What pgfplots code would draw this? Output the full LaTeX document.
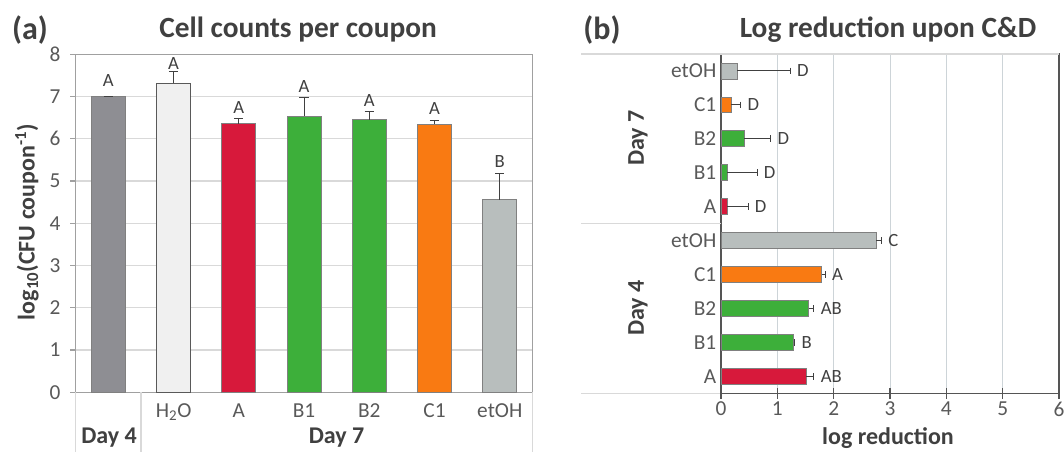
\documentclass[border=0pt]{standalone}
\usepackage{pgfplots}
\pgfplotsset{compat=1.18}
\usepackage{fontspec}
\setmainfont{Carlito}
\definecolor{txt}{HTML}{404040}
\definecolor{tickc}{HTML}{595959}
\definecolor{gridc}{HTML}{D9D9D9}
\definecolor{gridb}{HTML}{CDD4D8}
\definecolor{axc}{HTML}{A0A0A0}
\definecolor{axb}{HTML}{555555}
\definecolor{barb}{HTML}{808080}
\definecolor{errc}{HTML}{404040}
\definecolor{cDay}{HTML}{8E8E93}
\definecolor{cH}{HTML}{F0F0F0}
\definecolor{cA}{HTML}{D7193B}
\definecolor{cB}{HTML}{3DAF3A}
\definecolor{cC}{HTML}{F97A12}
\definecolor{cE}{HTML}{B8BEBD}
\pgfplotsset{
 vbar/.style={ybar, bar width=0.52, bar shift=0pt, draw=barb, line width=0.6pt, fill=#1,
   error bars/y dir=plus, error bars/y explicit,
   error bars/error bar style={line width=0.7pt, draw=errc},
   error bars/error mark options={rotate=90, line width=0.7pt, draw=errc, mark size=3.5pt}},
 hbar/.style={xbar, bar width=0.47, bar shift=0pt, draw=barb, line width=0.6pt, fill=#1,
   error bars/x dir=plus, error bars/x explicit,
   error bars/error bar style={line width=0.7pt, draw=errc},
   error bars/error mark options={rotate=90, line width=0.7pt, draw=errc, mark size=2.5pt}},
}
\begin{document}
\begin{tikzpicture}
\useasboundingbox (0,0) rectangle (798pt,339pt);
% ---------------- panel (a)
\begin{axis}[
  at={(56.8pt,44.8pt)}, anchor=south west, scale only axis,
  width=342.5pt, height=253.5pt,
  xmin=-0.5, xmax=6.5, ymin=0, ymax=8,
  ytick={0,1,...,8}, xtick={0,...,6},
  xticklabels={,H\textsubscript{2}O,A,B1,B2,C1,etOH},
  x tick style={draw=none}, ytick pos=left, xtick pos=bottom,
  axis line style={axc, line width=0.9pt},
  y tick style={axc, line width=0.9pt},
  tick align=outside, major tick length=4pt,
  ticklabel style={font=\fontsize{16}{19}\selectfont, text=tickc},
  yticklabel style={xshift=-4pt},
  xticklabel style={yshift=-1pt},
  /pgf/number format/assume math mode=true,
  clip=false,
]
\pgfplotsinvokeforeach{1,...,7}{\draw[draw=gridc, line width=0.8pt] (axis cs:-0.5,#1) -- (axis cs:6.5,#1);}
\addplot[vbar=cDay] coordinates {(0,7.00) +- (0,0.01)};
\addplot[vbar=cH, draw=tickc] coordinates {(1,7.32) +- (0,0.28)};
\addplot[vbar=cA] coordinates {(2,6.36) +- (0,0.13)};
\addplot[vbar=cB] coordinates {(3,6.54) +- (0,0.44)};
\addplot[vbar=cB] coordinates {(4,6.45) +- (0,0.19)};
\addplot[vbar=cC] coordinates {(5,6.34) +- (0,0.10)};
\addplot[vbar=cE] coordinates {(6,4.56) +- (0,0.62)};
\addplot[draw=none, nodes near coords, point meta=explicit symbolic,
  nodes near coords style={anchor=center, font=\fontsize{14}{16}\selectfont, text=txt}]
  table[x=x, y=y, meta=lab] {
x y lab
0 7.38 A
1 7.78 A
2 6.75 A
3 7.23 A
4 6.91 A
5 6.72 A
6 5.47 B
};
\draw[draw=gridc, line width=0.8pt] (axis cs:-0.5,0) -- ++(0pt,-45pt);
\draw[draw=gridc, line width=0.8pt] (axis cs:0.5,0) -- ++(0pt,-45pt);
\draw[draw=gridc, line width=0.8pt] (axis cs:6.5,0) -- ++(0pt,-45pt);
\end{axis}
% ---------------- panel (b)
\begin{axis}[
  at={(540.75pt,44pt)}, anchor=south west, scale only axis,
  width=253.5pt, height=254.5pt,
  xmin=0, xmax=6, ymin=-0.5, ymax=9.5,
  xtick={0,...,6}, ytick={0,...,9},
  yticklabels={A,B1,B2,C1,etOH,A,B1,B2,C1,etOH},
  y tick style={draw=none}, x tick style={draw=none},
  xtick pos=bottom, ytick pos=left,
  axis line style={axb, line width=0.9pt},
  ticklabel style={font=\fontsize{16}{19}\selectfont, text=tickc},
  xticklabel style={yshift=-3pt},
  /pgf/number format/assume math mode=true,
  clip=false,
]
\pgfplotsinvokeforeach{1,2,3.004,4,5}{\draw[draw=gridb, line width=0.8pt] (axis cs:#1,-0.5) -- (axis cs:#1,9.5);}
\addplot[hbar=cA] coordinates {(1.51,0) +- (0.14,0)};
\addplot[hbar=cB] coordinates {(1.29,1) +- (0.02,0)};
\addplot[hbar=cB] coordinates {(1.56,2) +- (0.09,0)};
\addplot[hbar=cC] coordinates {(1.79,3) +- (0.06,0)};
\addplot[hbar=cE] coordinates {(2.76,4) +- (0.09,0)};
\addplot[hbar=cA] coordinates {(0.11,5) +- (0.37,0)};
\addplot[hbar=cB] coordinates {(0.11,6) +- (0.53,0)};
\addplot[hbar=cB] coordinates {(0.41,7) +- (0.47,0)};
\addplot[hbar=cC] coordinates {(0.18,8) +- (0.17,0)};
\addplot[hbar=cE] coordinates {(0.29,9) +- (0.94,0)};
\draw[draw=gridc, line width=0.8pt] (axis cs:0,9.5) -- ++(-105pt,0pt);
\draw[draw=gridc, line width=0.8pt] (axis cs:0,4.5) -- ++(-105pt,0pt);
\draw[draw=gridc, line width=0.8pt] (axis cs:0,-0.5) -- ++(-105pt,0pt);
\draw[draw=gridc, line width=0.9pt] (axis cs:0,9.5) -- (axis cs:6,9.5);
\pgfplotsinvokeforeach{0,...,6}{\draw[draw=axb, line width=0.9pt] (axis cs:#1,-0.5) ++(0pt,-4pt) -- ++(0pt,8pt);}
\addplot[draw=none, nodes near coords, point meta=explicit symbolic,
  nodes near coords style={anchor=west, inner sep=0pt, xshift=5pt, font=\fontsize{14}{16}\selectfont, text=txt}]
  table[x=x, y=y, meta=lab] {
x y lab
1.65 0 AB
1.31 1 B
1.65 2 AB
1.85 3 A
2.85 4 C
0.48 5 D
0.64 6 D
0.88 7 D
0.35 8 D
1.23 9 D
};
\end{axis}
% ---------------- text
\node[font=\bfseries\fontsize{24}{28}\selectfont, text=txt] at (22.5pt,316.5pt) {(a)};
\node[font=\bfseries\fontsize{22}{26}\selectfont, text=txt] at (223.5pt,316.5pt) {Cell counts per coupon};
\node[font=\bfseries\fontsize{24}{28}\selectfont, text=txt] at (451.5pt,316.5pt) {(b)};
\node[font=\bfseries\fontsize{22}{26}\selectfont, text=txt] at (666pt,316.5pt) {Log reduction upon C\&D};
\node[rotate=90, font=\bfseries\fontsize{18}{21}\selectfont, text=txt] at (20.25pt,172.5pt) {log\textsubscript{10}(CFU coupon\textsuperscript{-1})};
\node[font=\bfseries\fontsize{18}{21}\selectfont, text=txt] at (81.75pt,10.5pt) {Day 4};
\node[font=\bfseries\fontsize{18}{21}\selectfont, text=txt] at (252.4pt,10.5pt) {Day 7};
\node[font=\bfseries\fontsize{18}{21}\selectfont, text=txt] at (666pt,10.5pt) {log reduction};
\node[rotate=90, font=\bfseries\fontsize{18}{21}\selectfont, text=txt] at (478.5pt,235.5pt) {Day 7};
\node[rotate=90, font=\bfseries\fontsize{18}{21}\selectfont, text=txt] at (478.5pt,108pt) {Day 4};
\end{tikzpicture}
\end{document}
